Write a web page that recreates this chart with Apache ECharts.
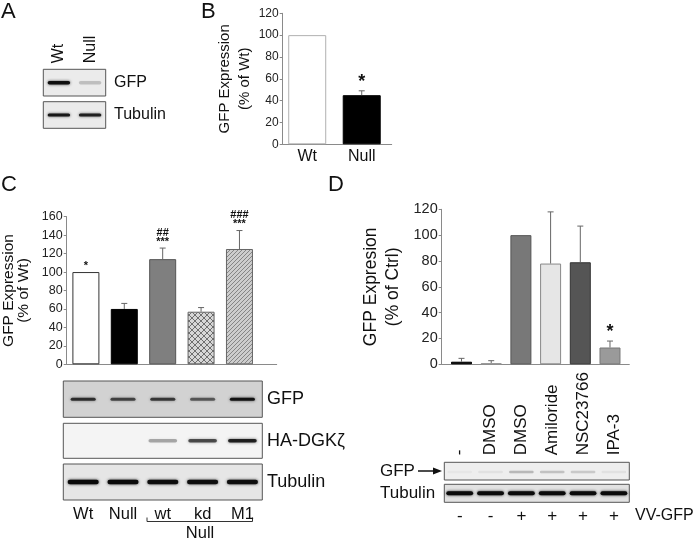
<!DOCTYPE html>
<html><head><meta charset="utf-8">
<script src="https://cdn.jsdelivr.net/npm/echarts@6/dist/echarts.min.js"></script>
<style>html,body{margin:0;padding:0;background:#fff}#c{width:698px;height:541px}</style>
</head><body><div id="c"></div>
<script>
// ---------- data ----------
const panelA_lanes = ['Wt', 'Null'];
const panelA_gfp = [0.95, 0.18];
const panelA_tubulin = [0.9, 0.85];

const panelB_categories = ['Wt', 'Null'];
const panelB_values = [100, 45];
const panelB_errors = [0, 4];
const panelB_annot = ['', '*'];

const panelC_categories = ['Wt', 'Null', 'wt', 'kd', 'M1'];
const panelC_values = [100, 60, 114, 57, 125];
const panelC_errors = [0, 6, 12, 4.5, 20];
const panelC_annot = ['*', '', '##\n***', '', '###\n***'];
const panelC_gfp = [0.75, 0.65, 0.7, 0.55, 0.92];
const panelC_ha = [0, 0, 0.3, 0.65, 0.85];
const panelC_tubulin = [1, 1, 0.95, 0.95, 0.95];

const panelD_treatment = ['-', 'DMSO', 'DMSO', 'Amiloride', 'NSC23766', 'IPA-3'];
const panelD_vv = ['-', '-', '+', '+', '+', '+'];
const panelD_values = [2, 1, 100, 78, 79, 13];
const panelD_errors = [2.6, 1.8, 0, 40, 28, 5];
const panelD_annot = ['', '', '', '', '', '*'];
const panelD_gfp = [0.03, 0.06, 0.22, 0.18, 0.15, 0.06];
const panelD_tubulin = [1, 1, 1, 1, 1, 1];

// ---------- styles ----------
const FONT = "'Liberation Sans', Arial, sans-serif";
function pattern(kind) {
  const c = document.createElement('canvas');
  const s = kind === 'cross' ? 6 : 4;
  c.width = s; c.height = s;
  const g = c.getContext('2d');
  g.fillStyle = kind === 'cross' ? '#d6d6d6' : '#cdcdcd';
  g.fillRect(0, 0, s, s);
  g.strokeStyle = kind === 'cross' ? '#6e6e6e' : '#858585';
  g.lineWidth = 1;
  g.beginPath();
  g.moveTo(0, s); g.lineTo(s, 0);
  g.moveTo(-1, 1); g.lineTo(1, -1);
  g.moveTo(s - 1, s + 1); g.lineTo(s + 1, s - 1);
  if (kind === 'cross') { g.moveTo(0, 0); g.lineTo(s, s); g.moveTo(-1, s-1); g.lineTo(1, s+1); g.moveTo(s-1,-1); g.lineTo(s+1,1); }
  g.stroke();
  return { image: c, repeat: 'repeat' };
}
const stylesB = [
  { color: '#ffffff', borderColor: '#b0b0b0', borderWidth: 1 },
  { color: '#000000', borderColor: '#000000', borderWidth: 1 }
];
const stylesC = [
  { color: '#ffffff', borderColor: '#333', borderWidth: 1 },
  { color: '#000000', borderColor: '#000', borderWidth: 1 },
  { color: '#7f7f7f', borderColor: '#555', borderWidth: 1 },
  { color: pattern('cross'), borderColor: '#666', borderWidth: 1 },
  { color: pattern('diag'), borderColor: '#666', borderWidth: 1 }
];
const stylesD = [
  { color: '#000000', borderColor: '#000', borderWidth: 1 },
  { color: '#ececec', borderColor: '#999', borderWidth: 1 },
  { color: '#787878', borderColor: '#555', borderWidth: 1 },
  { color: '#e6e6e6', borderColor: '#888', borderWidth: 1 },
  { color: '#555555', borderColor: '#333', borderWidth: 1 },
  { color: '#9a9a9a', borderColor: '#777', borderWidth: 1 }
];

function errRender(annots, fontSize, lineH, gap) {
  return function (params, api) {
    const i = params.dataIndex;
    const x = api.value(0), v = api.value(1), e = api.value(2);
    const base = api.coord([x, v]);
    const top = api.coord([x, v + e]);
    const ch = [];
    if (e > 0) {
      ch.push({ type: 'line', shape: { x1: base[0], y1: base[1], x2: top[0], y2: top[1] }, style: { stroke: '#666', lineWidth: 1 } });
      ch.push({ type: 'line', shape: { x1: top[0] - 3, y1: top[1], x2: top[0] + 3, y2: top[1] }, style: { stroke: '#666', lineWidth: 1 } });
    }
    if (annots[i]) {
      ch.push({ type: 'text', style: { text: annots[i], x: top[0], y: top[1] - gap, align: 'center', verticalAlign: 'bottom', textAlign: 'center', textVerticalAlign: 'bottom', font: 'bold ' + fontSize + 'px ' + FONT, lineHeight: lineH, fill: '#111' } });
    }
    return { type: 'group', children: ch };
  };
}
function bandRender(yFrac, wFrac, h) {
  return function (params, api) {
    const a = api.value(1);
    if (a <= 0) return { type: 'group', children: [] };
    const c = api.coord([api.value(0), yFrac]);
    const w = api.size([1, 0])[0] * wFrac;
    return { type: 'rect', shape: { x: c[0] - w / 2, y: c[1] - h / 2, width: w, height: h, r: h / 2 },
      style: { fill: 'rgba(10,10,10,' + a + ')', shadowBlur: 3, shadowColor: 'rgba(0,0,0,' + (a * 0.8) + ')' } };
  };
}

const chart = echarts.init(document.getElementById('c'), null, { renderer: 'canvas' });
const tickLbl = (fs) => ({ fontSize: fs, color: '#222', fontFamily: FONT, margin: 4 });
const axisLineGray = { show: true, onZero: false, lineStyle: { color: '#8a8a8a', width: 1 } };

function blotGrid(left, top, width, height, bg) {
  return { left, top, width, height, show: true, backgroundColor: bg, borderColor: '#555', borderWidth: 1, containLabel: false };
}
function hiddenCat(gi, data, extra) {
  return Object.assign({ type: 'category', gridIndex: gi, data: data, axisLine: { show: false, onZero: false }, axisTick: { show: false }, axisLabel: { show: false }, splitLine: { show: false } }, extra || {});
}
function hiddenVal(gi) {
  return { type: 'value', gridIndex: gi, min: 0, max: 1, show: false, axisLine: { onZero: false } };
}

const option = {
  animation: false,
  backgroundColor: '#ffffff',
  textStyle: { fontFamily: FONT },
  grid: [
    { left: 282.7, top: 13.3, width: 109, height: 131 },          // 0 B
    { left: 66.7, top: 216.7, width: 210, height: 147.6 },        // 1 C
    { left: 441.7, top: 209.3, width: 187.6, height: 155 },       // 2 D
    blotGrid(43.3, 69.3, 62.4, 26.7, '#ebebeb'),                  // 3 A GFP
    blotGrid(43.3, 101.7, 62.4, 26.6, '#ebebeb'),                 // 4 A Tub
    blotGrid(63.3, 381, 199, 36.3, '#d2d2d2'),                    // 5 C GFP
    blotGrid(63.3, 423.3, 199, 35, '#f4f4f4'),                    // 6 C HA
    blotGrid(63.3, 464, 199, 36, '#e6e6e6'),                      // 7 C Tub
    blotGrid(444.3, 462.3, 185, 17.7, '#eeeeee'),                 // 8 D GFP
    blotGrid(444.3, 484.3, 185, 18, '#e2e2e2')                    // 9 D Tub
  ],
  xAxis: [
    { type: 'value', gridIndex: 0, min: -0.45, max: 1.55, interval: 0.05, axisLine: axisLineGray, axisTick: { show: false }, splitLine: { show: false },
      axisLabel: { fontSize: 16, color: '#111', fontFamily: FONT, margin: 4, showMinLabel: true, showMaxLabel: true,
        formatter: function (v) { const r = Math.round(v); return (Math.abs(v - r) < 1e-6 && r >= 0 && r < panelB_categories.length) ? panelB_categories[r] : ''; } } },
    { type: 'value', gridIndex: 1, min: -0.5, max: 4.97, axisLine: axisLineGray, axisTick: { show: false }, axisLabel: { show: false }, splitLine: { show: false } },
    { type: 'value', gridIndex: 2, min: -0.667, max: 5.65, axisLine: axisLineGray, axisTick: { show: false }, axisLabel: { show: false }, splitLine: { show: false } },
    hiddenCat(3, panelA_lanes, { position: 'top', axisLabel: { show: true, rotate: -90, fontSize: 16, color: '#111', fontFamily: FONT, margin: 6, interval: 0 } }),
    hiddenCat(4, panelA_lanes),
    hiddenCat(5, panelC_categories),
    hiddenCat(6, panelC_categories),
    hiddenCat(7, panelC_categories, { position: 'bottom', axisLabel: { show: true, fontSize: 16.5, color: '#111', fontFamily: FONT, margin: 6, interval: 0 } }),
    hiddenCat(8, panelD_treatment, { position: 'top', axisLabel: { show: true, rotate: -90, fontSize: 17, color: '#111', fontFamily: FONT, margin: 7, interval: 0 } }),
    hiddenCat(9, panelD_vv, { position: 'bottom', axisLabel: { show: true, fontSize: 17, color: '#111', fontFamily: FONT, margin: 6, interval: 0 } })
  ],
  yAxis: [
    { type: 'value', gridIndex: 0, min: 0, max: 120, interval: 20, axisLine: axisLineGray, axisTick: { show: true, length: 3, lineStyle: { color: '#8a8a8a' } }, splitLine: { show: false },
      axisLabel: tickLbl(12), name: 'GFP Expression\n(% of Wt)', nameLocation: 'middle', nameGap: 26,
      nameTextStyle: { fontSize: 15, lineHeight: 20, color: '#111', fontFamily: FONT } },
    { type: 'value', gridIndex: 1, min: 0, max: 160, interval: 20, axisLine: axisLineGray, axisTick: { show: true, length: 3, lineStyle: { color: '#8a8a8a' } }, splitLine: { show: false },
      axisLabel: tickLbl(12.5), name: 'GFP Expression\n(% of Wt)', nameLocation: 'middle', nameGap: 35,
      nameTextStyle: { fontSize: 15.5, lineHeight: 15, color: '#111', fontFamily: FONT } },
    { type: 'value', gridIndex: 2, min: 0, max: 120, interval: 20, axisLine: axisLineGray, axisTick: { show: true, length: 3, lineStyle: { color: '#8a8a8a' } }, splitLine: { show: false },
      axisLabel: tickLbl(14.5), name: 'GFP Expresion\n(% of Ctrl)', nameLocation: 'middle', nameGap: 38,
      nameTextStyle: { fontSize: 17.5, lineHeight: 22, color: '#111', fontFamily: FONT } },
    hiddenVal(3), hiddenVal(4), hiddenVal(5), hiddenVal(6), hiddenVal(7), hiddenVal(8), hiddenVal(9)
  ],
  series: [
    { type: 'bar', xAxisIndex: 0, yAxisIndex: 0, barWidth: 38, data: panelB_values.map((v, i) => ({ value: [i, v], itemStyle: stylesB[i] })) },
    { type: 'custom', xAxisIndex: 0, yAxisIndex: 0, z: 5, renderItem: errRender(panelB_annot, 18, 18, 0), data: panelB_values.map((v, i) => [i, v, panelB_errors[i]]) },
    { type: 'bar', xAxisIndex: 1, yAxisIndex: 1, barWidth: 27, data: panelC_values.map((v, i) => ({ value: [i, v], itemStyle: stylesC[i] })) },
    { type: 'custom', xAxisIndex: 1, yAxisIndex: 1, z: 5, renderItem: errRender(panelC_annot, 11, 9, 2), data: panelC_values.map((v, i) => [i, v, panelC_errors[i]]) },
    { type: 'bar', xAxisIndex: 2, yAxisIndex: 2, barWidth: 21, data: panelD_values.map((v, i) => ({ value: [i, v], itemStyle: stylesD[i] })) },
    { type: 'custom', xAxisIndex: 2, yAxisIndex: 2, z: 5, renderItem: errRender(panelD_annot, 18, 18, 0), data: panelD_values.map((v, i) => [i, v, panelD_errors[i]]) },
    { type: 'custom', xAxisIndex: 3, yAxisIndex: 3, renderItem: bandRender(0.5, 0.72, 3.5), data: panelA_gfp.map((a, i) => [i, a]) },
    { type: 'custom', xAxisIndex: 4, yAxisIndex: 4, renderItem: bandRender(0.5, 0.72, 3), data: panelA_tubulin.map((a, i) => [i, a]) },
    { type: 'custom', xAxisIndex: 5, yAxisIndex: 5, renderItem: bandRender(0.5, 0.63, 3), data: panelC_gfp.map((a, i) => [i, a]) },
    { type: 'custom', xAxisIndex: 6, yAxisIndex: 6, renderItem: bandRender(0.5, 0.72, 3.5), data: panelC_ha.map((a, i) => [i, a]) },
    { type: 'custom', xAxisIndex: 7, yAxisIndex: 7, renderItem: bandRender(0.5, 0.78, 4.5), data: panelC_tubulin.map((a, i) => [i, a]) },
    { type: 'custom', xAxisIndex: 8, yAxisIndex: 8, renderItem: bandRender(0.45, 0.8, 2.5), data: panelD_gfp.map((a, i) => [i, a]) },
    { type: 'custom', xAxisIndex: 9, yAxisIndex: 9, renderItem: bandRender(0.5, 0.87, 4), data: panelD_tubulin.map((a, i) => [i, a]) }
  ],
  graphic: [
    txt('A', 1, 1, 22, 'left', 'top'),
    txt('B', 201, 1, 22, 'left', 'top'),
    txt('C', 1, 174, 22, 'left', 'top'),
    txt('D', 328, 174, 22, 'left', 'top'),
    txt('GFP', 114, 83, 16, 'left', 'middle'),
    txt('Tubulin', 114, 115, 16, 'left', 'middle'),
    txt('GFP', 267, 399.5, 18, 'left', 'middle'),
    txt('HA-DGKζ', 267, 441, 18, 'left', 'middle'),
    txt('Tubulin', 267, 482.5, 18, 'left', 'middle'),
    txt('Null', 200, 533.5, 16.5, 'center', 'middle'),
    { type: 'polyline', shape: { points: [[147, 517.5], [147, 521.5], [252.5, 521.5], [252.5, 517.5]] }, style: { stroke: '#333', lineWidth: 1, fill: null } },
    txt('GFP', 380, 471.5, 17, 'left', 'middle'),
    { type: 'line', shape: { x1: 418, y1: 471, x2: 435, y2: 471 }, style: { stroke: '#111', lineWidth: 1.5 } },
    { type: 'polygon', shape: { points: [[433, 467.5], [442, 471], [433, 474.5]] }, style: { fill: '#111' } },
    txt('Tubulin', 380, 493.5, 17, 'left', 'middle'),
    txt('VV-GFP', 635, 516, 16, 'left', 'middle')
  ]
};
function txt(t, x, y, fs, al, va) {
  return { type: 'text', x: x, y: y, style: { text: t, font: fs + 'px ' + FONT, fill: '#111', align: al, verticalAlign: va, textAlign: al, textVerticalAlign: va } };
}
chart.setOption(option);
</script></body></html>
